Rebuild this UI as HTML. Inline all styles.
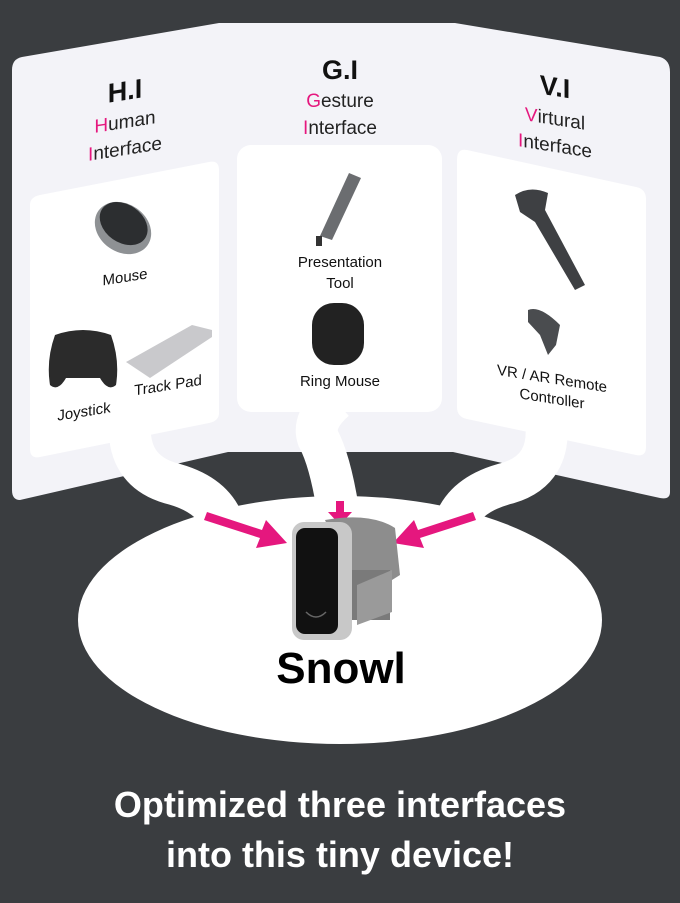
<!DOCTYPE html>
<html><head><meta charset="utf-8"><style>
html,body{margin:0;padding:0;background:#3a3d40;}
svg{display:block}
text{font-family:"Liberation Sans",sans-serif;}
</style></head><body>
<svg width="680" height="903" viewBox="0 0 680 903" xmlns="http://www.w3.org/2000/svg">
<rect width="680" height="903" fill="#3a3d40"/>
<!-- back panel -->
<path d="M22 57 L219 23 L455 23 L660 57 Q670 60 670 72 L670 492 Q670 500 660 498 L453 452 L228 452 L20 500 Q12 500 12 490 L12 70 Q12 59 22 57 Z" fill="#f3f3f8"/>
<!-- ribbons -->
<g fill="none" stroke="#fff" stroke-width="42" stroke-linecap="butt">
<path d="M130 420 Q126 470 170 483 Q210 493 222 520"/>
<path d="M335 400 Q312 420 318 438 Q330 460 338 510"/>
<path d="M546 420 Q552 470 508 483 Q468 493 456 520"/>
</g>
<!-- cards -->
<path d="M40 195 L209 162 Q219 160 219 170 L219 413 Q219 421 209 423 L40 457 Q30 459 30 449 L30 205 Q30 197 40 195 Z" fill="#fff"/>
<rect x="237" y="145" width="205" height="267" rx="14" fill="#fff"/>
<path d="M467 150 L636 187 Q646 189 646 199 L646 447 Q646 457 636 455 L467 419 Q457 417 457 407 L457 160 Q457 148 467 150 Z" fill="#fff"/>
<!-- ellipse -->
<ellipse cx="340" cy="620" rx="262" ry="124" fill="#fff"/>
<!-- arrows -->
<g fill="#e5177e">
<path d="M207 512 L262 530 L266 520 L287 543 L256 548 L260 538 L204 520 Z"/>
<path d="M336 501 L344 501 L344 512 L352 512 L340 525 L328 512 L336 512 Z"/>
<path d="M473 512 L418 530 L414 520 L393 543 L424 548 L420 538 L476 520 Z"/>
</g>
<!-- device -->
<g>
<path d="M325 520 Q370 512 395 528 L400 575 L360 600 Z" fill="#8d8d8d"/>
<rect x="350" y="570" width="40" height="50" fill="#7a7a7a"/>
<path d="M357 585 L392 570 L392 612 L357 625 Z" fill="#9a9a9a"/>
<rect x="292" y="522" width="60" height="118" rx="12" fill="#c8c8c8"/>
<rect x="296" y="528" width="42" height="106" rx="9" fill="#111"/>
<path d="M306 612 Q316 622 326 612" stroke="#666" stroke-width="1.5" fill="none"/>
</g>
<text x="341" y="683" font-size="44" font-weight="bold" text-anchor="middle" fill="#000">Snowl</text>
<!-- bottom text -->
<text x="340" y="817" font-size="36" font-weight="bold" text-anchor="middle" fill="#fff">Optimized three interfaces</text>
<text x="340" y="867" font-size="36" font-weight="bold" text-anchor="middle" fill="#fff">into this tiny device!</text>

<!-- left panel content -->
<g transform="translate(125,0) skewY(-9)">
<text x="0" y="100" font-size="27" font-weight="bold" text-anchor="middle" fill="#111">H.I</text>
<text x="0" y="128" font-size="19" text-anchor="middle" fill="#222"><tspan fill="#e5177e">H</tspan>uman</text>
<text x="0" y="155" font-size="19" text-anchor="middle" fill="#222"><tspan fill="#e5177e">I</tspan>nterface</text>
<text x="0" y="282" font-size="15" text-anchor="middle" fill="#111">Mouse</text>
<text x="-41" y="410" font-size="15" text-anchor="middle" fill="#111">Joystick</text>
<text x="43" y="397" font-size="15" text-anchor="middle" fill="#111">Track Pad</text>
</g>
<!-- mouse -->
<g transform="rotate(35 123 228)">
<ellipse cx="123" cy="228" rx="30" ry="24" fill="#8e9194"/>
<ellipse cx="121" cy="224" rx="26" ry="19" fill="#2c2e30"/>
</g>
<!-- joystick -->
<path d="M55 335 Q83 325 111 335 Q120 360 116 385 Q108 392 100 378 L66 378 Q58 392 50 385 Q46 360 55 335 Z" fill="#2b2b2b"/>
<!-- trackpad -->
<path d="M126 362 L192 325 L212 330 L212 337 L150 378 Z" fill="#c9c9cc"/>
<!-- middle content -->
<text x="340" y="79" font-size="27" font-weight="bold" text-anchor="middle" fill="#111">G.I</text>
<text x="340" y="107" font-size="19" text-anchor="middle" fill="#222"><tspan fill="#e5177e">G</tspan>esture</text>
<text x="340" y="134" font-size="19" text-anchor="middle" fill="#222"><tspan fill="#e5177e">I</tspan>nterface</text>
<path d="M349 173 L361 178 L332 240 L320 236 Z" fill="#6b6d70"/>
<rect x="316" y="236" width="6" height="10" fill="#333"/>
<text x="340" y="267" font-size="15" text-anchor="middle" fill="#111">Presentation</text>
<text x="340" y="288" font-size="15" text-anchor="middle" fill="#111">Tool</text>
<rect x="312" y="303" width="52" height="62" rx="22" fill="#222"/>
<text x="340" y="386" font-size="15" text-anchor="middle" fill="#111">Ring Mouse</text>
<!-- right content -->
<g transform="translate(555,0) skewY(9)">
<text x="0" y="96" font-size="27" font-weight="bold" text-anchor="middle" fill="#111">V.I</text>
<text x="0" y="125" font-size="19" text-anchor="middle" fill="#222"><tspan fill="#e5177e">V</tspan>irtural</text>
<text x="0" y="152" font-size="19" text-anchor="middle" fill="#222"><tspan fill="#e5177e">I</tspan>nterface</text>
<text x="-3" y="384" font-size="15" text-anchor="middle" fill="#111">VR / AR Remote</text>
<text x="-3" y="404" font-size="15" text-anchor="middle" fill="#111">Controller</text>
</g>
<path d="M515 195 Q530 185 548 193 L545 210 L585 285 L575 290 L535 222 L520 212 Z" fill="#3e4043"/>
<path d="M528 310 Q540 305 560 325 L556 345 L548 355 L540 335 L528 322 Z" fill="#4a4c4f"/>
</svg>
</body></html>
